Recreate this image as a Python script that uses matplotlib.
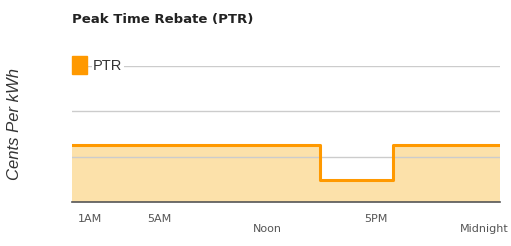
import matplotlib.pyplot as plt

# hourly rate (cents per kWh), step holds until next hour
hours = [0, 14.2, 18.4, 24.5]
rate = [1.25, 0.48, 1.25, 1.25]
tick_pos = [1, 5, 11.2, 17.4, 23.6]
tick_labels = ['1AM', '5AM', 'Noon', '5PM', 'Midnight']
series_name = 'PTR'

orange = '#FF9900'
fill = '#FCE1AA'
narrow = ['Liberation Sans Narrow', 'DejaVu Sans']

fig = plt.figure(figsize=(5.11, 2.46), dpi=100)
ax = fig.add_axes([72 / 511, 44 / 246, 428 / 511, 136 / 246])

ax.fill_between(hours, rate, step='post', color=fill, lw=0, zorder=1)
ax.step(hours, rate, where='post', color=orange, lw=2.2, zorder=3)

ax.set_xlim(0, 24.5)
ax.set_ylim(0, 3)
ax.set_yticks([1, 2, 3])
ax.grid(axis='y', color='#cccccc', lw=1, zorder=2)
ax.set_axisbelow(False)
ax.tick_params(left=False, labelleft=False, bottom=False, labelbottom=False)
for s in ['top', 'right', 'left']:
    ax.spines[s].set_visible(False)
ax.spines['bottom'].set_color('#555555')
ax.spines['bottom'].set_linewidth(1.2)

# alternating two-row x labels
for p, lab in zip(tick_pos, tick_labels):
    yoff = -0.6 if lab in ('Noon', 'Midnight') else -0.37
    ax.text(p, yoff, lab, ha='center', va='center', fontsize=8,
            color='#555555', clip_on=False, family=narrow)

# legend
ax.add_patch(plt.Rectangle((0, 2.83), 0.85, 0.4, color=orange, clip_on=False, zorder=4))
ax.text(1.2, 3.0, series_name, ha='left', va='center', fontsize=10.5, color='#333333',
        bbox=dict(facecolor='white', edgecolor='none', pad=1), zorder=4, clip_on=False,
        family=['Liberation Sans', 'DejaVu Sans'])

fig.text(72 / 511, 1 - 19 / 246, 'Peak Time Rebate (PTR)', fontsize=9.5,
         fontweight='bold', color='#222222', va='center', ha='left',
         family=narrow)
fig.text(15 / 511, 1 - 124 / 246, 'Cents Per kWh', fontsize=12, style='italic',
         rotation=90, color='#333333', va='center', ha='center',
         family=['Liberation Sans', 'DejaVu Sans'])

plt.savefig('out.png', dpi=100)
